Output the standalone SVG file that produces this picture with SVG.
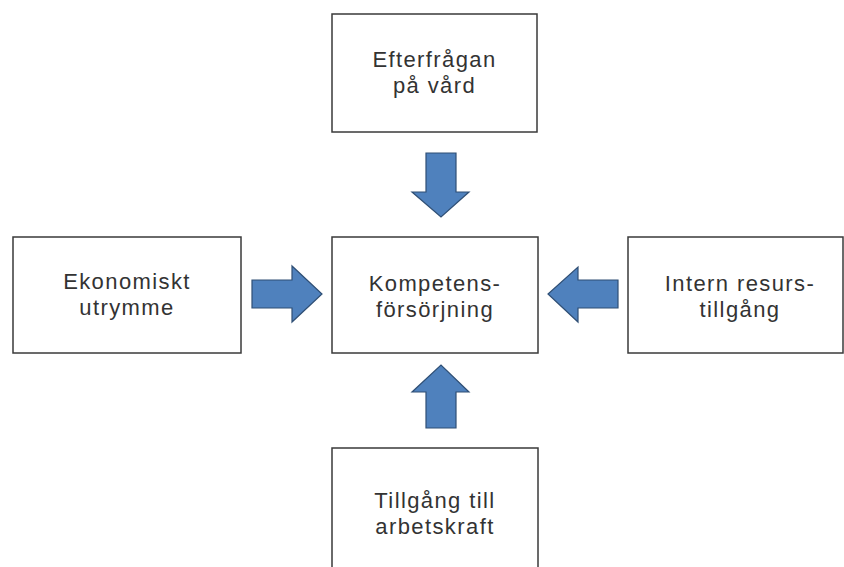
<svg xmlns="http://www.w3.org/2000/svg" width="844" height="567" viewBox="0 0 844 567">
<style>
.box{fill:#fff;stroke:#3a3a3a;stroke-width:1.5}
.arr{fill:#4f81bd;stroke:#2f4f75;stroke-width:1.2;stroke-linejoin:miter}
text{font-family:"Liberation Sans",Arial,sans-serif;font-size:22px;letter-spacing:1.4px;fill:#333;text-anchor:middle}
</style>
<rect width="844" height="567" fill="#fff"/>
<g id="efterfragan">
<rect class="box" x="332" y="14" width="205" height="118"/>
<text x="434.5" y="67">Efterfrågan</text>
<text x="434.5" y="93">på vård</text>
</g>
<g id="kompetens">
<rect class="box" x="332" y="237" width="206" height="116"/>
<text x="435" y="291">Kompetens-</text>
<text x="435" y="317">försörjning</text>
</g>
<g id="ekonomiskt">
<rect class="box" x="13" y="237" width="228" height="116"/>
<text x="127" y="289">Ekonomiskt</text>
<text x="127" y="315">utrymme</text>
</g>
<g id="intern">
<rect class="box" x="628" y="237" width="215" height="116"/>
<text x="740" y="291">Intern resurs-</text>
<text x="740" y="317">tillgång</text>
</g>
<g id="tillgang">
<rect class="box" x="332" y="448" width="206" height="130"/>
<text x="435" y="508">Tillgång till</text>
<text x="435" y="534">arbetskraft</text>
</g>
<g id="connectors">
<polygon class="arr" points="426,153 456,153 456,192 469,192 441,217 412,192 426,192"/>
<polygon class="arr" points="426,428 456,428 456,392 469,392 441,365 412,392 426,392"/>
<polygon class="arr" points="252,280 292,280 292,266 322,294 292,322 292,308 252,308"/>
<polygon class="arr" points="618,280 578,280 578,267 548,294 578,322 578,308 618,308"/>
</g>
</svg>
